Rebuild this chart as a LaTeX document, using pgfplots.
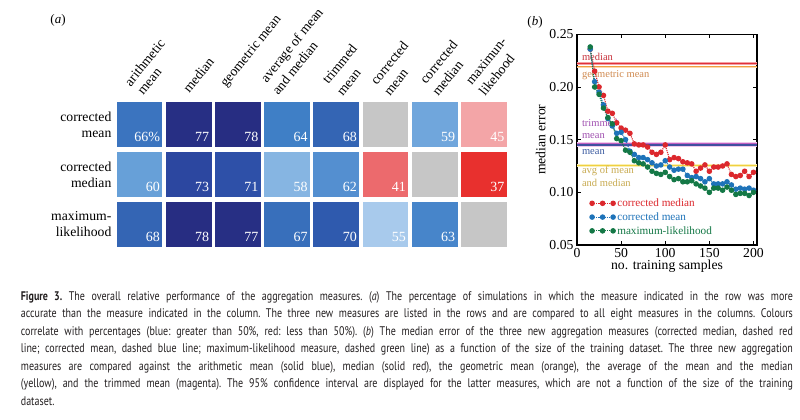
\documentclass[border=0pt]{standalone}
\usepackage{fontspec}
\setmainfont{Liberation Serif}
\newfontfamily\capfont[FakeStretch=0.8]{PT Sans}
\usepackage{pgfplots}
\pgfplotsset{compat=1.18}
\definecolor{capcol}{HTML}{231F20}
\definecolor{cred}{HTML}{DC282D}
\definecolor{cblue}{HTML}{1E73B9}
\definecolor{cgreen}{HTML}{147846}
\definecolor{lmed}{HTML}{E0303A}
\definecolor{bmed}{HTML}{F4A0A4}
\definecolor{lgeo}{HTML}{F0A040}
\definecolor{bgeo}{HTML}{FCD8B0}
\definecolor{ltrim}{HTML}{C060C0}
\definecolor{btrim}{HTML}{F0C8EC}
\definecolor{lmean}{HTML}{4050A0}
\definecolor{bmean}{HTML}{B8BEE4}
\definecolor{lavg}{HTML}{F0D040}
\definecolor{bavg}{HTML}{FAF0B4}
\definecolor{tmed}{HTML}{C8323C}
\definecolor{tgeo}{HTML}{D08A50}
\definecolor{ttrim}{HTML}{A050B0}
\definecolor{tmean}{HTML}{3A5AA0}
\definecolor{tavg}{HTML}{C8AA50}

\pgfplotstableread{
x y v
0 2 66
1 2 77
2 2 78
3 2 64
4 2 68
5 2 50
6 2 59
7 2 45
0 1 60
1 1 73
2 1 71
3 1 58
4 1 62
5 1 41
6 1 50
7 1 37
0 0 68
1 0 78
2 0 77
3 0 67
4 0 70
5 0 55
6 0 63
7 0 50
}\heat

\pgfplotstableread{
x med mean ml
15 0.236 0.236 0.238
20 0.215 0.205 0.200
25 0.200 0.195 0.193
30 0.192 0.183 0.180
35 0.177 0.170 0.171
40 0.175 0.163 0.165
45 0.166 0.156 0.151
50 0.161 0.157 0.149
55 0.159 0.150 0.140
60 0.156 0.139 0.138
65 0.146 0.136 0.130
70 0.145 0.133 0.128
75 0.145 0.133 0.127
80 0.143 0.131 0.124
85 0.138 0.128 0.120
90 0.136 0.125 0.118
95 0.138 0.126 0.117
100 0.145 0.130 0.119
105 0.131 0.124 0.115
110 0.133 0.121 0.112
115 0.132 0.122 0.113
120 0.129 0.122 0.110
125 0.128 0.116 0.110
130 0.127 0.114 0.111
135 0.120 0.115 0.108
140 0.123 0.113 0.106
145 0.126 0.110 0.104
150 0.120 0.113 0.100
155 0.124 0.108 0.104
160 0.124 0.108 0.104
165 0.125 0.108 0.102
170 0.127 0.110 0.105
175 0.117 0.107 0.102
180 0.115 0.103 0.098
185 0.116 0.104 0.099
190 0.120 0.103 0.099
195 0.115 0.104 0.097
200 0.119 0.102 0.100
}\errs

\newcommand{\capline}[2]{\node[anchor=base west, inner sep=0pt, text=capcol, font=\capfont\fontsize{12.5}{17.45}\selectfont] at (20.7pt,#1) {\frenchspacing\makebox[772pt][s]{#2}};}
\newcommand{\collab}[3]{\node[anchor=base west, inner sep=0pt, rotate=51, font=\fontsize{13.7}{15}\selectfont] at (#1pt,-#2pt) {#3};}

\begin{document}
\begin{tikzpicture}
\useasboundingbox (0pt,0pt) rectangle (800pt,-420pt);
\fill[white] (0pt,0pt) rectangle (800pt,-420pt);

\node[font=\fontsize{13}{15}\selectfont] at (58pt,-20pt) {(\textit{a})};
\node[font=\fontsize{13}{15}\selectfont] at (535pt,-22pt) {(\textit{b})};

% ---------- panel (a)
\begin{axis}[
  at={(114.9pt,-249.5pt)}, anchor=south west,
  width=393.6pt, height=150pt, scale only axis,
  xmin=-0.5, xmax=7.5, ymin=-0.5, ymax=2.5,
  axis line style={draw=none}, major tick length=0pt,
  xtick=\empty, ytick={0,1,2},
  yticklabels={{maximum-\\likelihood},{corrected\\median},{corrected\\mean}},
  yticklabel style={align=right, font=\fontsize{13.7}{16}\selectfont},
  colormap={heat}{rgb255(37pt)=(232,48,46) rgb255(41pt)=(236,106,109) rgb255(45pt)=(243,165,167) rgb255(50pt)=(198,198,198) rgb255(55pt)=(168,202,236) rgb255(58pt)=(134,181,226) rgb255(59pt)=(112,166,220) rgb255(60pt)=(103,160,216) rgb255(62pt)=(84,143,208) rgb255(63pt)=(71,133,202) rgb255(64pt)=(63,127,198) rgb255(66pt)=(59,116,191) rgb255(67pt)=(56,111,187) rgb255(68pt)=(52,101,180) rgb255(70pt)=(47,90,174) rgb255(71pt)=(46,80,168) rgb255(73pt)=(44,71,160) rgb255(77pt)=(39,47,132) rgb255(78pt)=(39,45,130)},
  point meta min=37, point meta max=78,
  clip=false,
]
\addplot[scatter, only marks, mark=square*, mark size=22.4pt,
  mark options={line width=0pt},
  scatter/use mapped color={draw=mapped color, fill=mapped color},
  point meta=\thisrow{v}] table[x=x, y=y] {\heat};
\addplot[draw=none, mark=none, nodes near coords, point meta=explicit symbolic,
  nodes near coords style={anchor=base east, text=white, inner sep=0pt, font=\fontsize{14}{16}\selectfont}]
coordinates {
(0.42,1.66)[66\%] (1.42,1.66)[77] (2.42,1.66)[78] (3.42,1.66)[64] (4.42,1.66)[68] (6.42,1.66)[59] (7.42,1.66)[45]
(0.42,0.66)[60] (1.42,0.66)[73] (2.42,0.66)[71] (3.42,0.66)[58] (4.42,0.66)[62] (5.42,0.66)[41] (7.42,0.66)[37]
(0.42,-0.34)[68] (1.42,-0.34)[78] (2.42,-0.34)[77] (3.42,-0.34)[67] (4.42,-0.34)[70] (5.42,-0.34)[55] (6.42,-0.34)[63]
};
\end{axis}

% column labels
\collab{130.7}{87.3}{arithmetic}
\collab{143.3}{95.7}{mean}
\collab{189.3}{93.5}{median}
\collab{226}{88}{geometric mean}
\collab{266.7}{83.3}{average of mean}
\collab{278.3}{96}{and median}
\collab{328.3}{85}{trimmed}
\collab{342.7}{96.7}{mean}
\collab{376.7}{86}{corrected}
\collab{390}{96.7}{mean}
\collab{426}{85}{corrected}
\collab{438.3}{96.7}{median}
\collab{471.7}{86}{maximun-}
\collab{485}{96.7}{likehood}

% ---------- panel (b)
\begin{axis}[
  at={(577pt,-245pt)}, anchor=south west,
  width=180pt, height=210.7pt, scale only axis,
  xmin=0, xmax=204, ymin=0.05, ymax=0.25,
  xtick={0,50,100,150,200}, ytick={0.05,0.10,0.15,0.20,0.25},
  tick align=inside, major tick length=4pt,
  axis line style={line width=1.3pt}, tick style={line width=0.8pt, black},
  /pgf/number format/assume math mode=true,
  yticklabel style={/pgf/number format/.cd, fixed, fixed zerofill, precision=2},
  tick label style={font=\fontsize{13.7}{15}\selectfont},
  label style={font=\fontsize{13.7}{15}\selectfont},
  xlabel={no. training samples}, ylabel={median error},
  xlabel style={yshift=5pt}, ylabel style={yshift=-3pt},
  legend style={draw=none, fill=none, at={(0.065,0.235)}, anchor=north west,
    font=\fontsize{11.2}{12}\selectfont, row sep=0.5pt, inner sep=1pt},
  legend cell align=left,
  legend image code/.code={\draw[#1, mark repeat=1] plot coordinates {(0pt,0pt) (10.5pt,0pt) (21pt,0pt)};},
]
\addplot[bmed, line width=3.8pt, forget plot] coordinates {(0,0.2222) (204,0.2222)};
\addplot[bgeo, line width=2.6pt, forget plot] coordinates {(0,0.2190) (204,0.2190)};
\addplot[lgeo, line width=1pt, forget plot] coordinates {(0,0.2190) (204,0.2190)};
\addplot[lmed, line width=1.3pt, forget plot] coordinates {(0,0.2222) (204,0.2222)};
\addplot[btrim, line width=5pt, forget plot] coordinates {(0,0.1458) (204,0.1458)};
\addplot[bmean, line width=2pt, forget plot] coordinates {(0,0.1450) (204,0.1450)};
\addplot[ltrim, line width=1pt, forget plot] coordinates {(0,0.1468) (204,0.1468)};
\addplot[lmean, line width=1.3pt, forget plot] coordinates {(0,0.1448) (204,0.1448)};
\addplot[bavg, line width=3pt, forget plot] coordinates {(0,0.1255) (204,0.1255)};
\addplot[lavg, line width=1.2pt, forget plot] coordinates {(0,0.1255) (204,0.1255)};

\node[anchor=west, inner sep=0pt, text=tmed, font=\fontsize{10.5}{12}\selectfont] at (axis cs:5.5,0.2285) {median};
\node[anchor=west, inner sep=0pt, text=tgeo, font=\fontsize{10.5}{12}\selectfont] at (axis cs:5.5,0.2114) {geometric mean};
\node[anchor=west, inner sep=0pt, text=ttrim, font=\fontsize{10.5}{12}\selectfont] at (axis cs:5.5,0.1658) {trimmed};
\node[anchor=west, inner sep=0pt, text=ttrim, font=\fontsize{10.5}{12}\selectfont] at (axis cs:5.5,0.1535) {mean};
\node[anchor=west, inner sep=0pt, text=tmean, font=\fontsize{10.5}{12}\selectfont] at (axis cs:5.5,0.1383) {mean};
\node[anchor=west, inner sep=0pt, text=tavg, font=\fontsize{10.5}{12}\selectfont] at (axis cs:5.5,0.1202) {avg of mean};
\node[anchor=west, inner sep=0pt, text=tavg, font=\fontsize{10.5}{12}\selectfont] at (axis cs:5.5,0.1089) {and median};

\addplot[cred, densely dotted, line width=1.1pt, mark=*, mark size=2.2pt, mark options={solid}] table[x=x, y=med] {\errs};
\addlegendentry[text=cred]{corrected median}
\addplot[cblue, densely dotted, line width=1.1pt, mark=*, mark size=2.2pt, mark options={solid}] table[x=x, y=mean] {\errs};
\addlegendentry[text=cblue]{corrected mean}
\addplot[cgreen, densely dotted, line width=1.1pt, mark=*, mark size=2.2pt, mark options={solid}] table[x=x, y=ml] {\errs};
\addlegendentry[text=cgreen]{maximum-likelihood}
\end{axis}

% ---------- caption
\capline{-300.5pt}{\textbf{Figure 3.} The overall relative performance of the aggregation measures. (\textit{a}) The percentage of simulations in which the measure indicated in the row was more}
\capline{-317.95pt}{accurate than the measure indicated in the column. The three new measures are listed in the rows and are compared to all eight measures in the columns. Colours}
\capline{-335.4pt}{correlate with percentages (blue: greater than 50\%, red: less than 50\%). (\textit{b}) The median error of the three new aggregation measures (corrected median, dashed red}
\capline{-352.85pt}{line; corrected mean, dashed blue line; maximum-likelihood measure, dashed green line) as a function of the size of the training dataset. The three new aggregation}
\capline{-370.3pt}{measures are compared against the arithmetic mean (solid blue), median (solid red), the geometric mean (orange), the average of the mean and the median}
\capline{-387.75pt}{(yellow), and the trimmed mean (magenta). The 95\% confidence interval are displayed for the latter measures, which are not a function of the size of the training}
\node[anchor=base west, inner sep=0pt, text=capcol, font=\capfont\fontsize{12.5}{17.45}\selectfont] at (20.7pt,-405.2pt) {dataset.};
\end{tikzpicture}
\end{document}
